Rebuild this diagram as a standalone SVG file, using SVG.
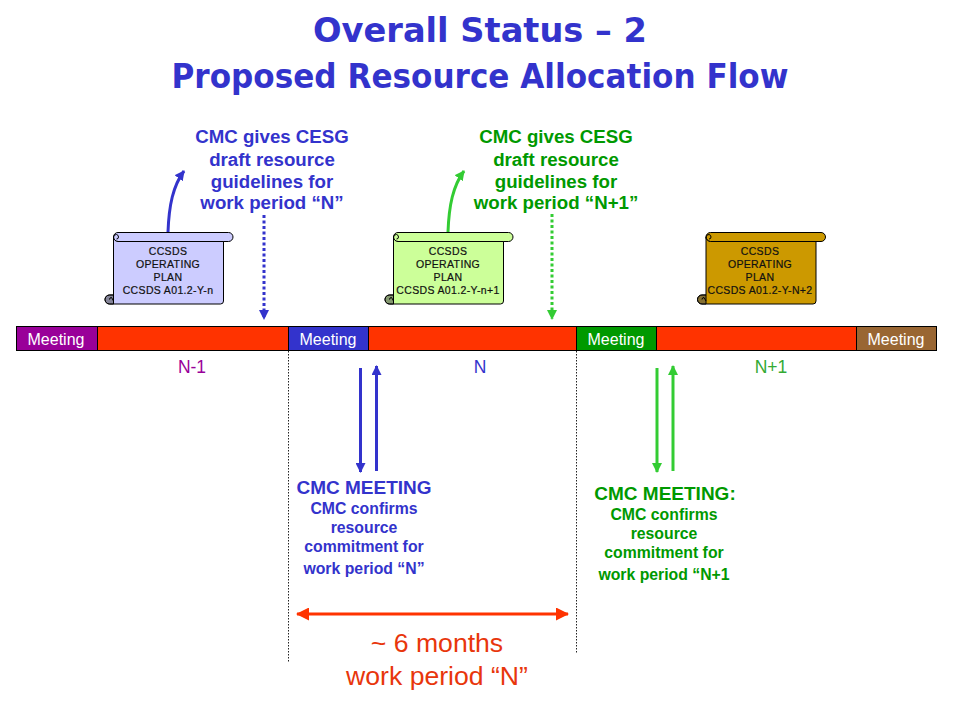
<svg xmlns="http://www.w3.org/2000/svg" width="960" height="720" viewBox="0 0 960 720">
<style>
text{font-family:"Liberation Sans",Arial,sans-serif;text-anchor:middle}
.title{font-family:"DejaVu Sans",sans-serif;font-weight:700;font-size:34px;fill:#3333cc}
.head{font-weight:700;font-size:18.700px}
.mhead{font-weight:700;font-size:19px}
.sub{font-weight:700;font-size:15.800px}
.blue{fill:#3333cc}.green{fill:#009900}
.scrolltext{font-size:10.500px;letter-spacing:.35px;fill:#111;stroke:#111;stroke-width:.2}
.seg{stroke:#000;stroke-width:1}
.mt{font-size:16px;fill:#fff}
.per{font-size:17.500px}
.red{font-size:26.600px;fill:#e8360c}
.vd{stroke:#222;stroke-width:1;stroke-dasharray:1.500 1.500;fill:none}
.conn{fill:none;stroke-width:3}
</style>
<defs>
<marker id="ab" markerUnits="userSpaceOnUse" markerWidth="10" markerHeight="10" refX="9" refY="5" orient="auto"><path d="M0 0L10 5L0 10Z" fill="#3333cc"/></marker>
<marker id="ag" markerUnits="userSpaceOnUse" markerWidth="10" markerHeight="10" refX="9" refY="5" orient="auto"><path d="M0 0L10 5L0 10Z" fill="#33cc33"/></marker>
<marker id="ar" markerUnits="userSpaceOnUse" markerWidth="13" markerHeight="13" refX="12" refY="6.500" orient="auto-start-reverse"><path d="M0 0L13 6.500L0 13Z" fill="#ff3300"/></marker>
<g id="scroll" stroke="#000" stroke-width="1" stroke-linejoin="round">
<path d="M1 5a4.500 4.500 0 0 1 4.500-4.500H116a4.500 4.500 0 0 1 0 9H5.500a4.500 4.500 0 0 1-4.500-4.500Z"/>
<path d="M1 5V63H-3a4.500 4.500 0 0 0 0 9H108a3 3 0 0 0 3-3V9.500H5.500A4.500 4.500 0 0 1 1 5Z"/>
<path d="M-3 63a4.500 4.500 0 0 0 0 9H1V63Z" fill="#555" fill-opacity=".6"/>
<path d="M1 5a3 3 0 0 1 3-2.500a2.500 2.500 0 0 1 2 2.500a2 2 0 0 1-2 2" fill="none"/>
<path d="M-3 67.500a2 2 0 0 1 2-2L1 69" fill="none"/>
</g>
</defs>
<g id="title">
<text class="title" x="480" y="42" textLength="334" lengthAdjust="spacingAndGlyphs">Overall Status – 2</text>
<text class="title" x="480" y="88" textLength="617" lengthAdjust="spacingAndGlyphs">Proposed Resource Allocation Flow</text>
</g>
<g id="guideline-n" class="blue">
<text class="head" x="272" y="143">CMC gives CESG</text>
<text class="head" x="272" y="166">draft resource</text>
<text class="head" x="272" y="188">guidelines for</text>
<text class="head" x="272" y="209">work period “N”</text>
</g>
<g id="guideline-n1" class="green">
<text class="head" x="556" y="143">CMC gives CESG</text>
<text class="head" x="556" y="166">draft resource</text>
<text class="head" x="556" y="188">guidelines for</text>
<text class="head" x="556" y="209">work period “N+1”</text>
</g>
<g id="plan-n">
<use href="#scroll" x="112.500" y="232" fill="#ccccff"/>
<text class="scrolltext" x="168" y="255">CCSDS</text><text class="scrolltext" x="168" y="268">OPERATING</text><text class="scrolltext" x="168" y="281">PLAN</text><text class="scrolltext" x="168" y="294">CCSDS A01.2-Y-n</text>
</g>
<g id="plan-n1">
<use href="#scroll" x="392.500" y="232" fill="#ccff99"/>
<text class="scrolltext" x="448" y="255">CCSDS</text><text class="scrolltext" x="448" y="268">OPERATING</text><text class="scrolltext" x="448" y="281">PLAN</text><text class="scrolltext" x="448" y="294">CCSDS A01.2-Y-n+1</text>
</g>
<g id="plan-n2">
<use href="#scroll" x="705" y="232" fill="#cc9900"/>
<text class="scrolltext" x="760" y="255">CCSDS</text><text class="scrolltext" x="760" y="268">OPERATING</text><text class="scrolltext" x="760" y="281">PLAN</text><text class="scrolltext" x="760" y="294">CCSDS A01.2-Y-N+2</text>
</g>
<g id="timeline">
<rect class="seg" x="16.500" y="326.500" width="81" height="24" fill="#990099"/>
<rect class="seg" x="97.500" y="326.500" width="191" height="24" fill="#ff3300"/>
<rect class="seg" x="288.500" y="326.500" width="80" height="24" fill="#3333cc"/>
<rect class="seg" x="368.500" y="326.500" width="208" height="24" fill="#ff3300"/>
<rect class="seg" x="576.500" y="326.500" width="80" height="24" fill="#009900"/>
<rect class="seg" x="656.500" y="326.500" width="200" height="24" fill="#ff3300"/>
<rect class="seg" x="856.500" y="326.500" width="80" height="24" fill="#996633"/>
<text class="mt" x="56" y="344.500">Meeting</text>
<text class="mt" x="328" y="344.500">Meeting</text>
<text class="mt" x="616" y="344.500">Meeting</text>
<text class="mt" x="896" y="344.500">Meeting</text>
<text class="per" x="192" y="373" fill="#990099">N-1</text>
<text class="per" x="480" y="373" fill="#3333cc">N</text>
<text class="per" x="771" y="373" fill="#33aa33">N+1</text>
</g>
<g id="connectors">
<path class="vd" d="M288.500 351V662"/>
<path class="vd" d="M576.500 351V654"/>
<path class="conn" stroke="#3333cc" d="M168 232C169 205 173 186 184 171" marker-end="url(#ab)"/>
<path class="conn" stroke="#33cc33" d="M448 232C449 205 453 186 464 171" marker-end="url(#ag)"/>
<path class="conn" stroke="#3333cc" stroke-dasharray="3 2.500" d="M264 215V319" marker-end="url(#ab)"/>
<path class="conn" stroke="#33cc33" stroke-dasharray="3 2.500" d="M552 214V319" marker-end="url(#ag)"/>
<path class="conn" stroke="#3333cc" d="M360.500 368V472" marker-end="url(#ab)"/>
<path class="conn" stroke="#3333cc" d="M376.500 471V366" marker-end="url(#ab)"/>
<path class="conn" stroke="#33cc33" d="M657 368V472" marker-end="url(#ag)"/>
<path class="conn" stroke="#33cc33" d="M673 471V366" marker-end="url(#ag)"/>
<path class="conn" stroke="#ff3300" d="M297 614H568" marker-start="url(#ar)" marker-end="url(#ar)"/>
</g>
<g id="meeting-n" class="blue">
<text class="mhead" x="364" y="494">CMC MEETING</text>
<text class="sub" x="364" y="514">CMC confirms</text>
<text class="sub" x="364" y="533">resource</text>
<text class="sub" x="364" y="552">commitment for</text>
<text class="sub" x="364" y="574">work period “N”</text>
</g>
<g id="meeting-n1" class="green">
<text class="mhead" x="665" y="500">CMC MEETING:</text>
<text class="sub" x="664" y="520">CMC confirms</text>
<text class="sub" x="664" y="539">resource</text>
<text class="sub" x="664" y="558">commitment for</text>
<text class="sub" x="664" y="580">work period “N+1</text>
</g>
<g id="duration">
<text class="red" x="437" y="652">~ 6 months</text>
<text class="red" x="437" y="685">work period “N”</text>
</g>
</svg>
